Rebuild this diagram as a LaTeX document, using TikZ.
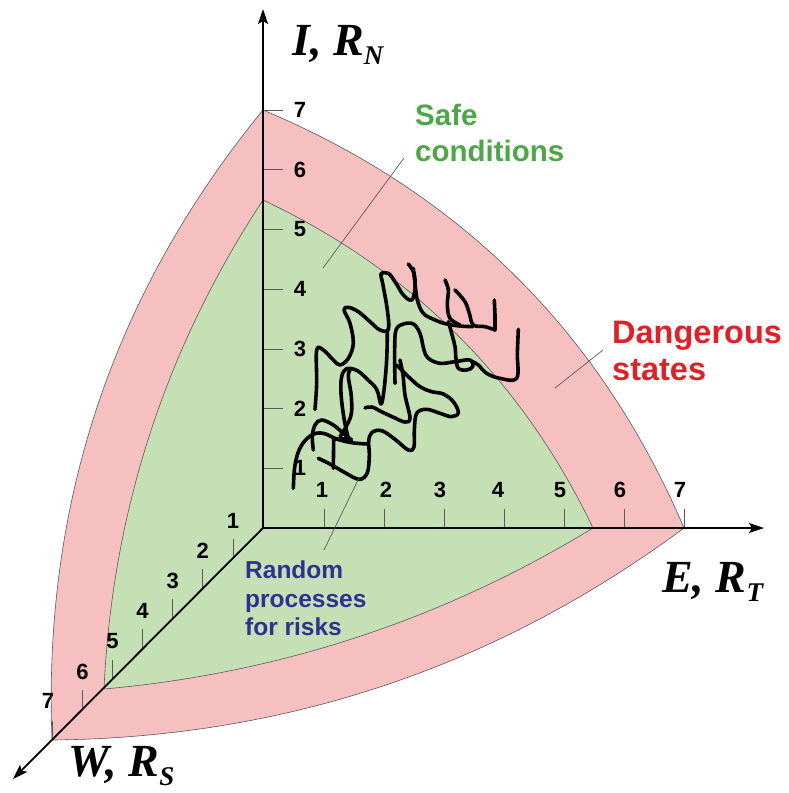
\documentclass[tikz,border=0pt]{standalone}
\usepackage{fontspec}
\setmainfont{Liberation Serif}
\setsansfont{Liberation Sans}
\usetikzlibrary{arrows.meta}
\definecolor{pinkfill}{RGB}{247,192,192}
\definecolor{greenfill}{RGB}{197,224,180}
\definecolor{edgegray}{RGB}{90,90,90}
\definecolor{safegreen}{RGB}{76,168,70}
\definecolor{dangerred}{RGB}{228,30,36}
\definecolor{randblue}{RGB}{46,49,146}
\tikzset{
  region/.style={draw=edgegray, line width=0.6pt},
  axisline/.style={line width=1.8pt, -{Stealth[length=15pt,width=10pt,inset=3pt]}},
  tickline/.style={draw=edgegray, line width=0.8pt},
  ticklabel/.style={font=\sffamily\bfseries\fontsize{22}{22}\selectfont, inner sep=0pt},
  axislabel/.style={font=\rmfamily\bfseries\itshape\fontsize{46}{46}\selectfont, inner sep=0pt, anchor=base west},
  leader/.style={draw=edgegray, line width=0.7pt},
  safetext/.style={font=\sffamily\bfseries\fontsize{29.5}{29.5}\selectfont, text=safegreen, inner sep=0pt, anchor=base west},
  dangertext/.style={font=\sffamily\bfseries\fontsize{32.5}{32.5}\selectfont, text=dangerred, inner sep=0pt, anchor=base west},
  randtext/.style={font=\sffamily\bfseries\fontsize{24.5}{24.5}\selectfont, text=randblue, inner sep=0pt, anchor=base west},
  scribble/.style={line width=3.6pt, line cap=round, line join=round},
}
\newcommand{\subtxt}[1]{\raisebox{-0.2em}{\fontsize{27}{27}\selectfont #1}}
\begin{document}
\begin{tikzpicture}[x=1pt,y=-1pt]
\useasboundingbox (0,0) rectangle (788,793);
\coordinate (O) at (263,528);
\coordinate (I7) at (263,110);
\coordinate (E7) at (684,528);
\coordinate (W7) at (52,740);
\coordinate (I5) at (263,200);
\coordinate (E5) at (593,528);
\coordinate (W5) at (104,689);
% regions
\path[region, fill=pinkfill] (W7) .. controls (42.7,503.3) and (113.1,293.3) .. (I7)
  .. controls (459.7,192.5) and (600.1,331.9) .. (E7)
  .. controls (496.2,667) and (285.6,737.6) .. (W7) -- cycle;
\path[region, fill=greenfill] (W5) .. controls (112.3,511.5) and (165.3,348.5) .. (I5)
  .. controls (411.8,270.3) and (521.8,379.7) .. (E5)
  .. controls (442.5,619.7) and (279.5,673.3) .. (W5) -- cycle;
% ticks I axis
\foreach \i in {1,...,7}{
  \draw[tickline] (263,528-59.7*\i) -- (283,528-59.7*\i);
  \node[ticklabel] (li\i) at (300,528-59.7*\i) {\i};
}
% ticks E axis
\foreach \i/\lx in {1/322,2/386,3/440,4/498,5/560,6/620,7/680}{
  \draw[tickline] (264+60*\i,528) -- (264+60*\i,509);
  \node[ticklabel] (le\i) at (\lx,490) {\i};
}
% ticks W axis
\foreach \i in {1,...,6}{
  \draw[tickline] (263-30.1*\i,528+30.1*\i) -- (263-30.1*\i,509+30.1*\i);
  \node[ticklabel] (lw\i) at (263-30.1*\i,491+30.1*\i) {\i};
}
\draw[tickline] (W7) -- (52,721);
\node[ticklabel] (lw7) at (48,701) {7};
% axes
\coordinate (Itip) at (263,9);
\coordinate (Etip) at (764,528);
\coordinate (Wtip) at (13,779);
\draw[axisline] (O) -- (Itip);
\draw[axisline] (O) -- (Etip);
\draw[axisline] (O) -- (Wtip);
% axis labels
\node[axislabel] (lI) at (292,55) {I, R\subtxt{N}};
\node[axislabel] (lE) at (662,592) {E, R\subtxt{T}};
\node[axislabel] (lW) at (68,776) {W, R\subtxt{S}};
% random processes scribble
\begin{scope}[shift={(280,250)}, scale=1/3]
\draw[scribble] plot[smooth, tension=0.6] coordinates {(40,715) (45,645) (62,590) (95,555) (130,550) (170,567) (215,578) (262,582)};
\draw[scribble] plot[smooth, tension=0.6] coordinates {(100,600) (97,560) (105,525) (125,510) (160,525) (190,550) (215,570)};
\draw[scribble] plot[smooth, tension=0.6] coordinates {(115,625) (150,642) (195,668) (238,688) (262,668) (268,615) (266,575) (275,548) (305,542) (345,568) (385,600) (402,590) (403,540) (410,490) (440,478) (480,490) (515,500) (535,488) (520,455) (490,432) (455,425) (420,410) (385,380) (350,345)};
\draw[scribble] (160,655) -- (161,568) -- (200,566);
\draw[scribble] plot[smooth, tension=0.6] coordinates {(205,565) (192,505) (183,430) (185,380) (200,356) (232,362) (262,388) (290,418) (303,462) (312,420) (320,330) (322,240)};
\draw[scribble] plot[smooth, tension=0.6] coordinates {(180,560) (212,500) (214,440) (205,380) (210,360)};
\draw[scribble] plot[smooth, tension=0.6] coordinates {(255,474) (276,471) (306,486) (345,504) (375,516) (390,504) (375,435) (369,375) (360,330)};
\draw[scribble] plot[smooth, tension=0.6] coordinates {(105,478) (110,400) (110,300) (130,300) (160,330) (180,345) (205,325) (220,280) (210,220) (192,180) (205,172) (235,185) (270,215) (300,240) (325,238) (322,180) (308,100) (303,72) (325,70) (345,95) (370,135) (395,150) (405,115) (402,70) (385,42)};
\draw[scribble] plot[smooth, tension=0.6] coordinates {(345,400) (344,300) (348,240) (370,222) (400,222) (420,250) (432,300) (445,325) (480,340) (525,335) (570,330) (578,350) (560,360) (535,355) (528,325) (525,290) (515,250) (505,215)};
\draw[scribble] plot[smooth, tension=0.6] coordinates {(400,55) (405,100) (412,150) (430,190) (465,210) (500,222) (540,228) (578,230)};
\draw[scribble] plot[smooth, tension=0.6] coordinates {(495,90) (505,120) (502,165) (510,205) (540,225)};
\draw[scribble] plot[smooth, tension=0.6] coordinates {(525,120) (555,155) (568,190) (580,225) (615,230) (645,240)};
\draw[scribble] (645,240) -- (645,195) -- (643,150);
\draw[scribble] plot[smooth, tension=0.6] coordinates {(715,238) (712,310) (710,385) (660,385) (620,370) (595,345) (578,335)};
\end{scope}
% labels and leaders
\node[safetext] (safe1) at (415,125) {Safe};
\node[safetext] (safe2) at (415,161) {conditions};
\coordinate (safeA) at (323,268);
\coordinate (safeB) at (404,158);
\draw[leader] (safeA) -- (safeB);
\node[dangertext] (dang1) at (612,343) {Dangerous};
\node[dangertext] (dang2) at (612,380) {states};
\coordinate (dangA) at (555,388);
\coordinate (dangB) at (603,350);
\draw[leader] (dangA) -- (dangB);
\node[randtext] (rand1) at (245,578) {Random};
\node[randtext] (rand2) at (245,607) {processes};
\node[randtext] (rand3) at (245,635) {for risks};
\coordinate (randA) at (324,550);
\coordinate (randB) at (359,478);
\draw[leader] (randA) -- (randB);
\end{tikzpicture}
\end{document}
